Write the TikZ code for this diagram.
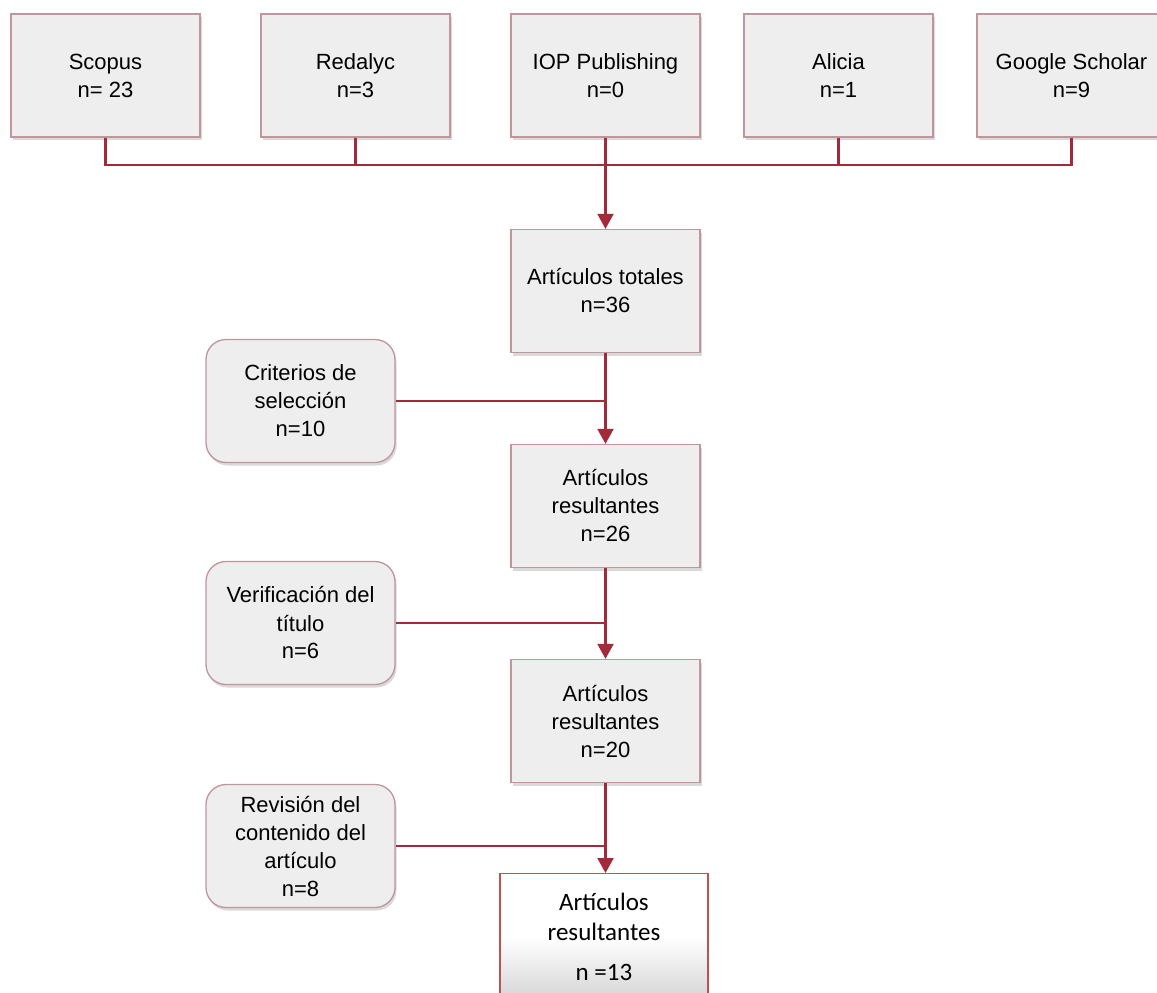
\documentclass[tikz,border=0pt]{standalone}
\usepackage{fontspec}
\setmainfont{Liberation Sans}
\newfontfamily\calib{Carlito}
\usetikzlibrary{arrows.meta,shadows,calc}
\definecolor{conncol}{RGB}{163,42,58}
\definecolor{boxborder}{RGB}{190,150,156}
\definecolor{boxfill}{RGB}{238,238,238}
\definecolor{finalborder}{RGB}{192,80,88}
\begin{document}
\begin{tikzpicture}[x=1pt,y=-1pt,
  basebox/.style={draw=boxborder, line width=1.3pt, fill=boxfill,
    minimum width=189pt, minimum height=123pt, inner sep=0pt,
    align=center, font=\fontsize{22}{28}\selectfont,
    drop shadow={shadow xshift=1.5pt, shadow yshift=-3pt, opacity=0.25, fill=black!60}},
  srcbox/.style={basebox},
  critbox/.style={basebox, rounded corners=20pt},
  finalbox/.style={draw=finalborder, line width=1.3pt,
    top color=white, bottom color=black!17, middle color=white,
    minimum width=208pt, minimum height=127pt, inner sep=0pt,
    align=center, font=\calib\fontsize{25}{30}\selectfont},
  conn/.style={draw=conncol, line width=2.2pt},
  arr/.style={conn, -{Triangle[width=16pt,length=15pt]}}
]
\clip (0,0) rectangle (1157,993);
\useasboundingbox (0,0) rectangle (1157,993);

% sources
\node[srcbox] (s1) at (105.5,75.5) {Scopus\\n= 23};
\node[srcbox] (s2) at (355.5,75.5) {Redalyc\\n=3};
\node[srcbox] (s3) at (605.5,75.5) {IOP Publishing\\n=0};
\node[srcbox] (s4) at (838.5,75.5) {Alicia\\n=1};
\node[srcbox] (s5) at (1071.5,75.5) {Google Scholar\\n=9};

% main column
\node[basebox] (t)  at (605.5,291) {Artículos totales\\n=36};
\node[basebox] (r1) at (605.5,506) {Artículos\\resultantes\\n=26};
\node[basebox] (r2) at (605.5,721) {Artículos\\resultantes\\n=20};
\node[finalbox, anchor=north] (f) at (604,873) {Artículos\\resultantes\\[10pt]n =13};

% criteria
\node[critbox] (c1) at (300.5,401) {Criterios de\\selección\\n=10};
\node[critbox] (c2) at (300.5,623) {Verificación del\\título\\n=6};
\node[critbox] (c3) at (300.5,846) {Revisión del\\contenido del\\artículo\\n=8};

% bus
\coordinate (bus) at (605.5,165);
\draw[conn] (s1.south) |- (bus);
\draw[conn] (s2.south) |- (bus);
\draw[conn] (s4.south) |- (bus);
\draw[conn] (s5.south) |- (bus);
\draw[arr] (s3.south) -- (t.north);

% flow
\draw[arr] (t.south) -- (r1.north);
\draw[arr] (r1.south) -- (r2.north);
\draw[arr] (r2.south) -- (r2.south |- f.north);

\draw[conn] (c1.east) -- (c1.east -| t.south);
\draw[conn] (c2.east) -- (c2.east -| r1.south);
\draw[conn] (c3.east) -- (c3.east -| r2.south);
\end{tikzpicture}
\end{document}
